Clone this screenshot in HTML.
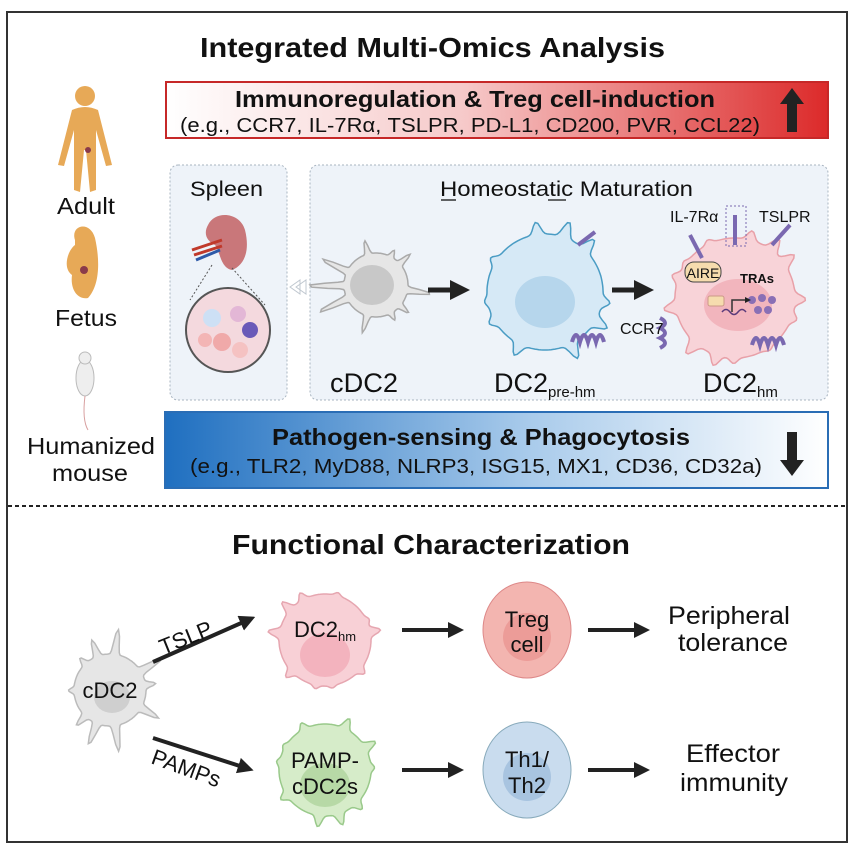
<!DOCTYPE html>
<html><head><meta charset="utf-8"><style>
body{margin:0;background:#fff;}
svg text{font-family:"Liberation Sans",Arial,sans-serif;}
</style></head><body>
<svg id="s" width="854" height="854" viewBox="0 0 854 854" xmlns="http://www.w3.org/2000/svg">
<defs>
<linearGradient id="red" x1="0" x2="1"><stop offset="0" stop-color="#fff"/><stop offset="0.45" stop-color="#f6c9c9"/><stop offset="1" stop-color="#dc2a2a"/></linearGradient>
<linearGradient id="blue" x1="0" x2="1"><stop offset="0" stop-color="#1f6fc0"/><stop offset="0.55" stop-color="#a9cbeb"/><stop offset="1" stop-color="#fff"/></linearGradient>
<marker id="ah" markerWidth="4" markerHeight="4" refX="2" refY="2" orient="auto" markerUnits="strokeWidth"><path d="M0,0 L4,2 L0,4 z" fill="#222"/></marker>
</defs>
<rect x="7" y="12" width="840" height="830" fill="#fff" stroke="#333" stroke-width="2"/>
<text x="200" y="57" font-size="28" font-weight="bold" textLength="465" lengthAdjust="spacingAndGlyphs" fill="#111">Integrated Multi-Omics Analysis</text>

<rect x="166" y="82" width="662" height="56" fill="url(#red)" stroke="#c62828" stroke-width="2"/>
<text x="235" y="107" font-size="23" font-weight="bold" textLength="480" lengthAdjust="spacingAndGlyphs" fill="#111">Immunoregulation &amp; Treg cell-induction</text>
<text x="180" y="132" font-size="20" textLength="580" lengthAdjust="spacingAndGlyphs" fill="#111">(e.g., CCR7, IL-7Rα, TSLPR, PD-L1, CD200, PVR, CCL22)</text>
<path d="M792,88 L804,104 L797,104 L797,132 L787,132 L787,104 L780,104 Z" fill="#222"/>

<rect x="170" y="165" width="117" height="235" rx="8" fill="#eef3f9" stroke="#a8b4c0" stroke-dasharray="2,2"/>
<rect x="310" y="165" width="518" height="235" rx="8" fill="#eef3f9" stroke="#a8b4c0" stroke-dasharray="2,2"/>
<text x="190" y="196" font-size="21" textLength="73" lengthAdjust="spacingAndGlyphs" fill="#111">Spleen</text>
<text x="440" y="196" font-size="21" textLength="253" lengthAdjust="spacingAndGlyphs" fill="#111">Homeostatic Maturation</text>
<line x1="441" y1="200" x2="456" y2="200" stroke="#111" stroke-width="1.3"/>
<line x1="548" y1="200" x2="566" y2="200" stroke="#111" stroke-width="1.3"/>
<path d="M208,225 C215,210 240,212 245,230 C250,250 245,265 232,270 C220,268 220,250 215,245 C205,240 204,232 208,225Z" fill="#c9777a"/>
<path d="M192,250 L222,240 M194,255 L222,246" stroke="#c0392b" stroke-width="3"/>
<path d="M196,260 L220,250" stroke="#2e5aa8" stroke-width="3"/>
<circle cx="228" cy="330" r="42" fill="#f4d9de" stroke="#555" stroke-width="2"/>
<circle cx="212" cy="318" r="9" fill="#cde0f5"/><circle cx="238" cy="314" r="8" fill="#e3b7d6"/><circle cx="250" cy="330" r="8" fill="#6a5ab8"/>
<circle cx="222" cy="342" r="9" fill="#f0a9a9"/><circle cx="205" cy="340" r="7" fill="#f3b5b5"/><circle cx="240" cy="350" r="8" fill="#f5c2c2"/>
<path d="M212,265 L190,300 M232,268 L265,305" stroke="#555" stroke-dasharray="2,2"/>
<path d="M290,287 L300,280 L300,294 Z M296,287 L306,280 L306,294Z" fill="none" stroke="#c0c8d0"/>

<g id="cells"></g>

<g stroke="#7a68b0" stroke-width="4" fill="none">
<path d="M578,245 L595,232"/><path d="M690,235 L702,258"/><path d="M735,215 L735,245"/><path d="M790,225 L772,245"/>
<path d="M572,342 q4,-14 8,0 q4,-14 8,0 q4,-14 8,0 q4,-14 8,0"/>
<path d="M660,318 q10,5 0,10 q10,5 0,10 q10,5 0,10"/>
<path d="M752,345 q4,-14 8,0 q4,-14 8,0 q4,-14 8,0 q4,-14 8,0"/>
</g>
<rect x="726" y="206" width="20" height="40" fill="none" stroke="#7a68b0" stroke-dasharray="2,2"/>
<g fill="#8a6fb5"><circle cx="752" cy="300" r="4"/><circle cx="762" cy="298" r="4"/><circle cx="772" cy="300" r="4"/><circle cx="758" cy="310" r="4"/><circle cx="768" cy="310" r="4"/></g>
<path d="M722,312 q4,-5 8,0 q4,5 8,0 q4,-5 8,0" stroke="#5a3a7a" fill="none" stroke-width="1.5"/>
<path d="M732,312 L732,300 L748,300" stroke="#333" fill="none" stroke-width="1.5" marker-end="url(#ah)"/>
<rect x="708" y="296" width="16" height="10" rx="2" fill="#f6dcae" stroke="#c98"/>

<path d="M428,290 L460,290" stroke="#222" stroke-width="5" marker-end="url(#ah)"/>
<path d="M612,290 L644,290" stroke="#222" stroke-width="5" marker-end="url(#ah)"/>

<text x="330" y="392" font-size="27" textLength="68" lengthAdjust="spacingAndGlyphs" fill="#111">cDC2</text>
<text x="494" y="392" font-size="27" fill="#111">DC2<tspan font-size="15" dy="5">pre-hm</tspan></text>
<text x="703" y="392" font-size="27" fill="#111">DC2<tspan font-size="15" dy="5">hm</tspan></text>
<text x="670" y="222" font-size="16" fill="#111">IL-7Rα</text>
<text x="759" y="222" font-size="16" fill="#111">TSLPR</text>
<text x="620" y="334" font-size="16" fill="#111">CCR7</text>
<rect x="685" y="262" width="36" height="20" rx="9" fill="#f6dcae" stroke="#444"/>
<text x="703" y="278" font-size="14" text-anchor="middle" fill="#111">AIRE</text>
<text x="740" y="283" font-size="13" font-weight="bold" fill="#111">TRAs</text>

<rect x="165" y="412" width="663" height="76" fill="url(#blue)" stroke="#2a6db5" stroke-width="2"/>
<text x="272" y="445" font-size="23" font-weight="bold" textLength="418" lengthAdjust="spacingAndGlyphs" fill="#111">Pathogen-sensing &amp; Phagocytosis</text>
<text x="190" y="473" font-size="20" textLength="572" lengthAdjust="spacingAndGlyphs" fill="#111">(e.g., TLR2, MyD88, NLRP3, ISG15, MX1, CD36, CD32a)</text>
<path d="M792,476 L804,460 L797,460 L797,432 L787,432 L787,460 L780,460 Z" fill="#222"/>

<g fill="#e7a957">
<circle cx="85" cy="96" r="10"/>
<path d="M72,110 Q85,104 98,110 L112,165 L106,166 L96,130 L96,190 L90,192 L86,150 L84,150 L80,192 L74,190 L74,130 L64,166 L58,165 Z"/>
<path d="M75,240 C70,225 90,220 95,238 C100,260 100,285 88,298 C78,300 70,290 72,275 C62,268 68,250 75,245Z"/>
</g>
<circle cx="88" cy="150" r="3" fill="#8a3a4a"/><circle cx="84" cy="270" r="4" fill="#8a3a4a"/>
<ellipse cx="85" cy="378" rx="9" ry="18" fill="#eee" stroke="#bbb"/><circle cx="85" cy="358" r="6" fill="#eee" stroke="#bbb"/>
<path d="M85,396 Q82,420 88,430" stroke="#d8a0a0" fill="none"/>
<text x="57" y="214" font-size="23" textLength="58" lengthAdjust="spacingAndGlyphs" fill="#111">Adult</text>
<text x="55" y="326" font-size="23" textLength="62" lengthAdjust="spacingAndGlyphs" fill="#111">Fetus</text>
<text x="27" y="454" font-size="23" textLength="128" lengthAdjust="spacingAndGlyphs" fill="#111">Humanized</text>
<text x="52" y="481" font-size="23" textLength="76" lengthAdjust="spacingAndGlyphs" fill="#111">mouse</text>

<line x1="8" y1="506" x2="846" y2="506" stroke="#222" stroke-width="2" stroke-dasharray="4,3"/>
<text x="232" y="554" font-size="28" font-weight="bold" textLength="398" lengthAdjust="spacingAndGlyphs" fill="#111">Functional Characterization</text>

<g id="cells2"></g>

<path d="M153,662 L248,620" stroke="#222" stroke-width="4" marker-end="url(#ah)"/>
<path d="M153,738 L246,768" stroke="#222" stroke-width="4" marker-end="url(#ah)"/>
<text x="0" y="0" font-size="22" fill="#111" transform="translate(163,655) rotate(-22)">TSLP</text>
<text x="0" y="0" font-size="22" fill="#111" transform="translate(150,763) rotate(20)">PAMPs</text>
<path d="M402,630 L456,630" stroke="#222" stroke-width="4" marker-end="url(#ah)"/>
<path d="M588,630 L642,630" stroke="#222" stroke-width="4" marker-end="url(#ah)"/>
<path d="M402,770 L456,770" stroke="#222" stroke-width="4" marker-end="url(#ah)"/>
<path d="M588,770 L642,770" stroke="#222" stroke-width="4" marker-end="url(#ah)"/>

<ellipse cx="527" cy="630" rx="44" ry="48" fill="#f3b5b0" stroke="#d88"/>
<circle cx="527" cy="637" r="24" fill="#ec9c98"/>
<ellipse cx="527" cy="770" rx="44" ry="48" fill="#c9dcee" stroke="#8ab"/>
<circle cx="527" cy="777" r="24" fill="#a8c4e0"/>
<text x="527" y="627" font-size="22" text-anchor="middle" fill="#111">Treg</text>
<text x="527" y="652" font-size="22" text-anchor="middle" fill="#111">cell</text>
<text x="527" y="767" font-size="22" text-anchor="middle" fill="#111">Th1/</text>
<text x="527" y="793" font-size="22" text-anchor="middle" fill="#111">Th2</text>
<text x="729" y="624" font-size="25" text-anchor="middle" textLength="122" lengthAdjust="spacingAndGlyphs" fill="#111">Peripheral</text>
<text x="733" y="651" font-size="25" text-anchor="middle" textLength="110" lengthAdjust="spacingAndGlyphs" fill="#111">tolerance</text>
<text x="733" y="762" font-size="25" text-anchor="middle" textLength="94" lengthAdjust="spacingAndGlyphs" fill="#111">Effector</text>
<text x="734" y="791" font-size="25" text-anchor="middle" textLength="108" lengthAdjust="spacingAndGlyphs" fill="#111">immunity</text>
<text x="110" y="698" font-size="22" text-anchor="middle" fill="#111">cDC2</text>
<text x="325" y="637" font-size="22" text-anchor="middle" fill="#111">DC2<tspan font-size="13" dy="4">hm</tspan></text>
<text x="325" y="768" font-size="22" text-anchor="middle" fill="#111">PAMP-</text>
<text x="325" y="794" font-size="22" text-anchor="middle" fill="#111">cDC2s</text>
</svg>
<script>
function cell(g,cx,cy,r,n,amp,fill,stroke,seed,w){
 w=w||0.012;var d="",N=180;
 for(var i=0;i<=N;i++){var a=i/N*2*Math.PI;
  var s=0;for(var k=0;k<n;k++){var ak=(k+0.3*Math.sin(seed+k*1.7))/n*2*Math.PI;var dd=Math.atan2(Math.sin(a-ak),Math.cos(a-ak));s+=Math.exp(-dd*dd/w)*(0.6+0.4*Math.sin(seed*3+k));}
  var rr=r+amp*s;d+=(i?"L":"M")+(cx+rr*Math.cos(a)).toFixed(1)+","+(cy+rr*Math.sin(a)).toFixed(1);}
 var p=document.createElementNS("http://www.w3.org/2000/svg","path");p.setAttribute("d",d+"Z");p.setAttribute("fill",fill);p.setAttribute("stroke",stroke);p.setAttribute("stroke-width","1.5");g.appendChild(p);}
function circ(g,cx,cy,rx,ry,f){var e=document.createElementNS("http://www.w3.org/2000/svg","ellipse");e.setAttribute("cx",cx);e.setAttribute("cy",cy);e.setAttribute("rx",rx);e.setAttribute("ry",ry);e.setAttribute("fill",f);g.appendChild(e);}
var g=document.getElementById("cells"),g2=document.getElementById("cells2");
cell(g,376,285,32,10,36,"#e6e6e6","#aaa",1,0.004);circ(g,372,285,22,20,"#c8c8c8");
cell(g,545,292,58,10,16,"#d6e9f6","#4a9cc4",2,0.006);circ(g,545,302,30,26,"#b6d6ec");
cell(g,735,298,60,13,14,"#f8d3d8","#e8a0a8",3,0.006);circ(g,738,305,34,26,"#f2b5bd");
cell(g,110,690,36,10,26,"#e6e6e6","#bbb",4,0.005);circ(g,112,697,18,16,"#cfcfcf");
cell(g,325,640,46,10,12,"#f8d0d6","#e6a6b0",5,0.006);circ(g,325,655,25,22,"#f3b3be");
cell(g,325,770,46,10,12,"#d6ecc9","#99c98a",6,0.006);circ(g,325,785,25,22,"#b7d9a6");
</script>
</body></html>
